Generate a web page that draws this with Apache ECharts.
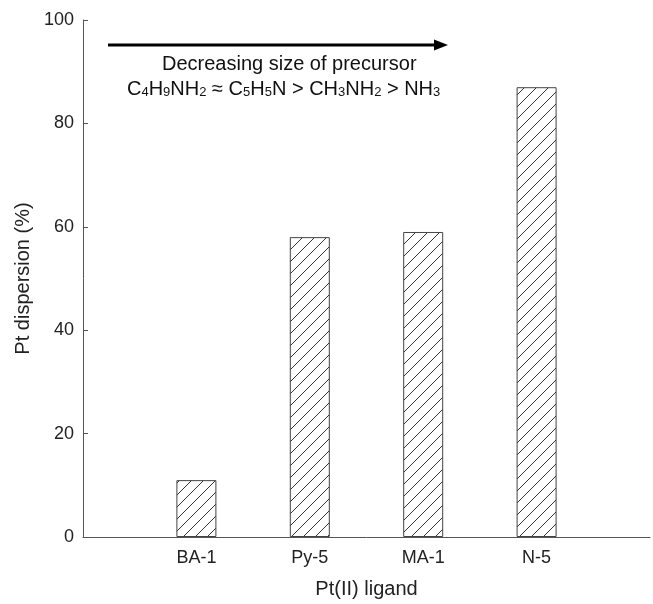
<!DOCTYPE html>
<html>
<head>
<meta charset="utf-8">
<script src="https://cdn.jsdelivr.net/npm/echarts@6/dist/echarts.min.js"></script>
<style>
  html, body { margin: 0; padding: 0; background: #fff; }
  #chart { width: 653px; height: 604px; }
</style>
</head>
<body>
<div id="chart"></div>
<script>
// categories padded with blanks so bars sit at slots 1..4
const categories = ['', 'BA-1', 'Py-5', 'MA-1', 'N-5', ''];
const dispersion = [null, 11, 58, 59, 87, null];
const yTicks = [0, 20, 40, 60, 80, 100];

// diagonal hatch pattern for the bars
function makeHatch() {
  const s = 12;
  const c = document.createElement('canvas');
  c.width = s; c.height = s;
  const g = c.getContext('2d');
  g.fillStyle = '#fff';
  g.fillRect(0, 0, s, s);
  g.strokeStyle = '#333';
  g.lineWidth = 1;
  g.beginPath();
  g.moveTo(-1, s + 1); g.lineTo(s + 1, -1);
  g.moveTo(-1, 1); g.lineTo(1, -1);
  g.moveTo(s - 1, s + 1); g.lineTo(s + 1, s - 1);
  g.stroke();
  return c;
}

const font = 'Liberation Sans, Arial, sans-serif';
const chart = echarts.init(document.getElementById('chart'));

const option = {
  animation: false,
  grid: { left: 83, width: 575, top: 20, bottom: 63, containLabel: false },
  xAxis: {
    type: 'category',
    data: categories,
    boundaryGap: false,
    name: 'Pt(II) ligand',
    nameLocation: 'middle',
    nameGap: 42,
    nameTextStyle: { fontFamily: font, fontSize: 20, color: '#222' },
    axisLine: { lineStyle: { color: '#555', width: 1 } },
    axisTick: { show: false },
    axisLabel: { fontFamily: font, fontSize: 18, color: '#222', margin: 12, interval: 0 }
  },
  yAxis: {
    type: 'value',
    min: yTicks[0],
    max: yTicks[yTicks.length - 1],
    interval: 20,
    name: 'Pt dispersion (%)',
    nameLocation: 'middle',
    nameGap: 48,
    nameTextStyle: { fontFamily: font, fontSize: 20, color: '#222' },
    axisLine: { show: true, lineStyle: { color: '#555', width: 1 } },
    axisTick: { show: true, inside: true, length: 5, lineStyle: { color: '#555' } },
    axisLabel: { fontFamily: font, fontSize: 18, color: '#222', margin: 9 },
    splitLine: { show: false }
  },
  series: [{
    type: 'bar',
    data: dispersion,
    barWidth: 40,
    itemStyle: {
      color: { image: makeHatch(), repeat: 'repeat' },
      borderColor: '#444',
      borderWidth: 1
    }
  }],
  graphic: [
    {
      type: 'line',
      shape: { x1: 108, y1: 45, x2: 436, y2: 45 },
      style: { stroke: '#000', lineWidth: 3 }
    },
    {
      type: 'polygon',
      shape: { points: [[434, 39.5], [448, 45], [434, 50.5]] },
      style: { fill: '#000' }
    },
    {
      type: 'text',
      left: 162, top: 54,
      style: {
        text: 'Decreasing size of precursor',
        font: '20px ' + font,
        fill: '#111'
      }
    },
    {
      type: 'text',
      left: 127, top: 78,
      style: {
        text: 'C{s|4}H{s|9}NH{s|2} ≈ C{s|5}H{s|5}N > CH{s|3}NH{s|2} > NH{s|3}',
        font: '20px ' + font,
        fill: '#111',
        rich: {
          s: { fontSize: 13, fontFamily: font, verticalAlign: 'bottom', lineHeight: 16, padding: [8, 0, 0, 0] }
        }
      }
    }
  ]
};

chart.setOption(option);
</script>
</body>
</html>
